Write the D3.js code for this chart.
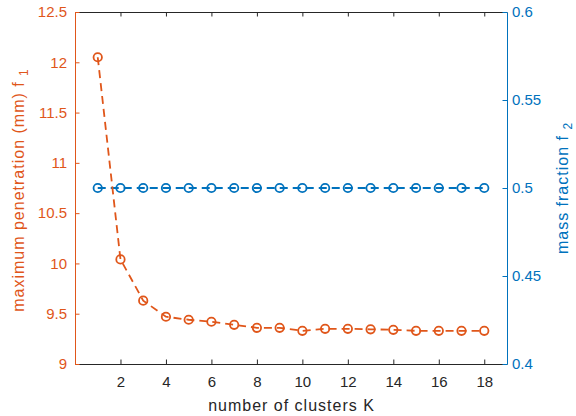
<!DOCTYPE html>
<html><head><meta charset="utf-8">
<script src="https://cdn.jsdelivr.net/npm/d3@7"></script>
<style>
body{margin:0;background:#fff;}
svg{display:block;font-family:"Liberation Sans",Arial,Helvetica,sans-serif;}
</style></head>
<body><svg id="c" width="576" height="416"></svg>
<script>
const K = [1,2,3,4,5,6,7,8,9,10,11,12,13,14,15,16,17,18];
const penetration = [12.05,10.04,9.63,9.47,9.44,9.42,9.39,9.36,9.36,9.33,9.35,9.35,9.345,9.34,9.33,9.33,9.33,9.33];
const massFraction = [0.5,0.5,0.5,0.5,0.5,0.5,0.5,0.5,0.5,0.5,0.5,0.5,0.5,0.5,0.5,0.5,0.5,0.5];
const xTicks = [2,4,6,8,10,12,14,16,18];
const leftTicks = [9,9.5,10,10.5,11,11.5,12,12.5];
const rightTicks = [0.4,0.45,0.5,0.55,0.6];
const xLabel = "number of clusters K";
const leftLabel = ["maximum penetration (mm) f ", "1"];
const rightLabel = ["mass fraction f ", "2"];

const ORANGE = "#E0561A", BLUE = "#0072BD", DARK = "#262626";
const svg = d3.select("#c");
const L = 75, R = 507, T = 12, B = 364;
const x = d3.scaleLinear().domain([0,19]).range([L,R]);
const yL = d3.scaleLinear().domain([9,12.5]).range([B,T]);
const yR = d3.scaleLinear().domain([0.4,0.6]).range([B,T]);

function styleAxis(g, color){
  g.selectAll("path.domain").attr("stroke", color).attr("stroke-width",1);
  g.selectAll(".tick line").attr("stroke", color).attr("stroke-width",1);
  g.selectAll(".tick text").attr("fill", color).attr("font-size","15px")
    .attr("font-family",'"Liberation Sans",Arial,sans-serif');
}

// top axis (box)
svg.append("g").attr("transform",`translate(0,${T})`)
  .call(d3.axisTop(x).tickValues(xTicks).tickSizeInner(-4.5).tickSizeOuter(0).tickFormat(""))
  .call(g=>styleAxis(g,DARK));
// bottom axis
svg.append("g").attr("transform",`translate(0,${B})`)
  .call(d3.axisBottom(x).tickValues(xTicks).tickSizeInner(-4.5).tickSizeOuter(0).tickPadding(12).tickFormat(d3.format("d")))
  .call(g=>styleAxis(g,DARK));
// left axis
svg.append("g").attr("transform",`translate(${L},0)`)
  .call(d3.axisLeft(yL).tickValues(leftTicks).tickSizeInner(-4.5).tickSizeOuter(0).tickPadding(8).tickFormat(d=>String(d)))
  .call(g=>styleAxis(g,ORANGE));
// right axis
svg.append("g").attr("transform",`translate(${R},0)`)
  .call(d3.axisRight(yR).tickValues(rightTicks).tickSizeInner(-4.5).tickSizeOuter(0).tickPadding(5).tickFormat(d=>String(d)))
  .call(g=>styleAxis(g,BLUE));

// series
function series(vals, ys, color){
  const data = K.map((k,i)=>({k, v: vals[i]}));
  svg.append("path").datum(data)
    .attr("fill","none").attr("stroke",color).attr("stroke-width",1.8)
    .attr("stroke-dasharray","8,5")
    .attr("d", d3.line().x(d=>x(d.k)).y(d=>ys(d.v)));
  svg.append("g").selectAll("circle").data(data).join("circle")
    .attr("cx",d=>x(d.k)).attr("cy",d=>ys(d.v)).attr("r",4.2)
    .attr("fill","none").attr("stroke",color).attr("stroke-width",1.8);
}
series(massFraction, yR, BLUE);
series(penetration, yL, ORANGE);

// labels
svg.append("text").attr("x",(L+R)/2+0.5).attr("y",411)
  .attr("text-anchor","middle").attr("font-size","16px").attr("letter-spacing","1px")
  .attr("fill",DARK).text(xLabel);

const lt = svg.append("text").attr("transform",`translate(24,${(T+B)/2+2}) rotate(-90)`)
  .attr("text-anchor","middle").attr("font-size","16px").attr("letter-spacing","1px")
  .attr("fill",ORANGE);
lt.append("tspan").text(leftLabel[0]);
lt.append("tspan").attr("font-size","12px").attr("dy",4).text(leftLabel[1]);

const rt = svg.append("text").attr("transform",`translate(568,${(T+B)/2}) rotate(-90)`)
  .attr("text-anchor","middle").attr("font-size","16px").attr("letter-spacing","1px")
  .attr("fill",BLUE);
rt.append("tspan").text(rightLabel[0]);
rt.append("tspan").attr("font-size","12px").attr("dy",4).text(rightLabel[1]);
</script></body></html>
